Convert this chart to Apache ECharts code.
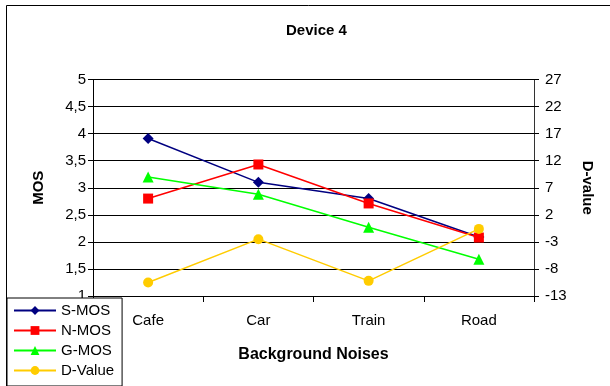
<!DOCTYPE html>
<html>
<head>
<meta charset="utf-8">
<script src="https://cdn.jsdelivr.net/npm/echarts@6/dist/echarts.min.js"></script>
<style>
html,body{margin:0;padding:0;background:#fff;}
#chart{width:610px;height:386px;}
</style>
</head>
<body>
<div id="chart"></div>
<script>
const categories = ['Cafe', 'Car', 'Train', 'Road'];
const sMos = [3.91, 3.10, 2.80, 2.09];
const nMos = [2.80, 3.43, 2.71, 2.08];
const gMos = [3.20, 2.88, 2.27, 1.68];
const dValue = [-10.5, -2.5, -10.2, -0.6];
const seriesNames = ['S-MOS', 'N-MOS', 'G-MOS', 'D-Value'];

const FONT = 'Liberation Sans, Arial, sans-serif';
const chart = echarts.init(document.getElementById('chart'), null, {renderer: 'canvas'});

function lineSeries(name, data, color, symbol, size, yIdx) {
  return {
    name: name, type: 'line', data: data, yAxisIndex: yIdx,
    symbol: symbol, symbolSize: size,
    lineStyle: {color: color, width: 1.5},
    itemStyle: {color: color},
    animation: false
  };
}

chart.setOption({
  animation: false,
  backgroundColor: '#fff',
  title: {
    text: 'Device 4', left: 281, top: 18,
    textStyle: {fontFamily: FONT, fontSize: 15, fontWeight: 'bold', color: '#000'}
  },
  graphic: [{
    type: 'rect', z: -1, silent: true,
    shape: {x: 6.5, y: 5.5, width: 640, height: 420},
    style: {fill: null, stroke: '#000', lineWidth: 1}
  }],
  legend: {
    orient: 'vertical', left: 7, top: 298,
    padding: [5, 8, 8, 6],
    itemWidth: 42, itemHeight: 11, itemGap: 5,
    backgroundColor: '#fff', borderColor: '#000', borderWidth: 1,
    textStyle: {fontFamily: FONT, fontSize: 15, lineHeight: 14, color: '#000'},
    data: seriesNames
  },
  grid: {left: 93, right: 76, top: 79.5, bottom: 90, containLabel: false},
  xAxis: {
    type: 'category', data: categories, boundaryGap: true,
    name: 'Background Noises', nameLocation: 'middle', nameGap: 51,
    nameTextStyle: {fontFamily: FONT, fontSize: 16, fontWeight: 'bold', color: '#000'},
    axisLine: {onZero: false, lineStyle: {color: '#000', width: 1}},
    axisTick: {show: true, length: 6, lineStyle: {color: '#000'}},
    axisLabel: {fontFamily: FONT, fontSize: 15, color: '#000', margin: 17}
  },
  yAxis: [{
    type: 'value', min: 1, max: 5, interval: 0.5, position: 'left',
    name: 'MOS', nameLocation: 'middle', nameGap: 47, nameRotate: 90,
    nameTextStyle: {fontFamily: FONT, fontSize: 15, fontWeight: 'bold', color: '#000'},
    axisLine: {show: true, lineStyle: {color: '#000', width: 1}},
    axisTick: {show: true, length: 5, lineStyle: {color: '#000'}},
    splitLine: {show: true, lineStyle: {color: '#000', width: 1}},
    axisLabel: {fontFamily: FONT, fontSize: 15, color: '#000', margin: 7,
      formatter: v => String(v).replace('.', ',')}
  }, {
    type: 'value', min: -13, max: 27, interval: 5, position: 'right',
    name: 'D-value', nameLocation: 'middle', nameGap: 46, nameRotate: -90,
    nameTextStyle: {fontFamily: FONT, fontSize: 15, fontWeight: 'bold', color: '#000'},
    axisLine: {show: true, lineStyle: {color: '#333', width: 1}},
    axisTick: {show: true, length: 5, lineStyle: {color: '#000'}},
    splitLine: {show: false},
    axisLabel: {fontFamily: FONT, fontSize: 15, color: '#000', margin: 11}
  }],
  series: [
    lineSeries(seriesNames[0], sMos, '#000080', 'diamond', 11, 0),
    lineSeries(seriesNames[1], nMos, '#FF0000', 'rect', 10, 0),
    lineSeries(seriesNames[2], gMos, '#00FF00', 'triangle', 11, 0),
    lineSeries(seriesNames[3], dValue, '#FFCC00', 'circle', 10, 1)
  ]
});
</script>
</body>
</html>
